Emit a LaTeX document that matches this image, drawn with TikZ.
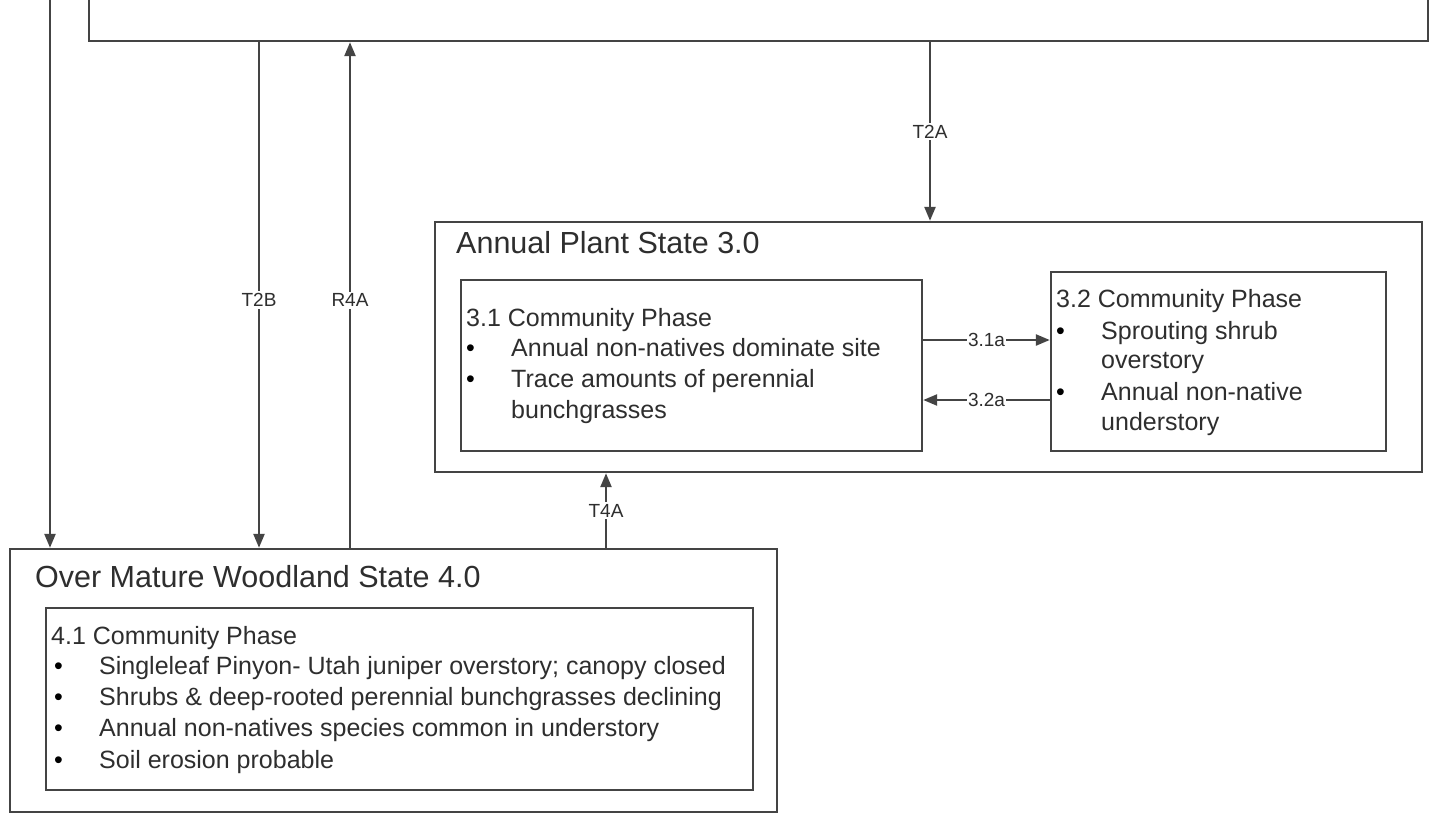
\documentclass[tikz,border=0pt]{standalone}
\usepackage{fontspec}
\setmainfont{Liberation Sans}
\usetikzlibrary{arrows.meta}
\definecolor{ln}{HTML}{444444}
\definecolor{tx}{HTML}{2E2E2E}
\begin{document}
\begin{tikzpicture}[x=1pt,y=-1pt,
  box/.style={draw=ln,line width=2.4pt,rectangle,inner sep=0pt,fill=white},
  arr/.style={draw=ln,line width=2.4pt,-{Triangle[length=14pt,width=11pt]}},
  title/.style={anchor=base west,inner sep=0pt,text=tx,font=\fontsize{30.5}{36}\selectfont},
  body/.style={anchor=base west,inner sep=0pt,text=tx,font=\fontsize{25}{30}\selectfont},
  bul/.style={anchor=base west,inner sep=0pt,text=black,font=\fontsize{25}{30}\selectfont},
  lab/.style={fill=white,inner sep=2pt,text=tx,font=\fontsize{19}{22}\selectfont}]
\useasboundingbox (0,0) rectangle (1444,814);
\clip (0,0) rectangle (1444,814);
\fill[white] (0,0) rectangle (1444,814);
% boxes
\node[box,minimum width=1339pt,minimum height=91pt] (top) at (758.5,-4.5) {};
\node[box,minimum width=987pt,minimum height=250pt] (s3) at (928.5,347) {};
\node[box,minimum width=461pt,minimum height=171pt] (p31) at (691.5,365.5) {};
\node[box,minimum width=335pt,minimum height=179pt] (p32) at (1218.5,361.5) {};
\node[box,minimum width=767pt,minimum height=263pt] (s4) at (393.5,680.5) {};
\node[box,minimum width=707pt,minimum height=182pt] (p41) at (399.5,699) {};
% texts
\node[title] at (456,253) {Annual Plant State 3.0};
\node[title] at (35,587) {Over Mature Woodland State 4.0};
\node[body] at (466,326) {3.1 Community Phase};
\node[bul] at (466,356) {\textbullet};
\node[body] at (511,356) {Annual non-natives dominate site};
\node[bul] at (466,387) {\textbullet};
\node[body] at (511,387) {Trace amounts of perennial};
\node[body] at (511,418) {bunchgrasses};
\node[body] at (1056,307) {3.2 Community Phase};
\node[bul] at (1056,339) {\textbullet};
\node[body] at (1101,339) {Sprouting shrub};
\node[body] at (1101,368) {overstory};
\node[bul] at (1056,400) {\textbullet};
\node[body] at (1101,400) {Annual non-native};
\node[body] at (1101,430) {understory};
\node[body] at (51,644) {4.1 Community Phase};
\node[bul] at (54,674) {\textbullet};
\node[body] at (99,674) {Singleleaf Pinyon- Utah juniper overstory; canopy closed};
\node[bul] at (54,705) {\textbullet};
\node[body] at (99,705) {Shrubs \& deep-rooted perennial bunchgrasses declining};
\node[bul] at (54,736) {\textbullet};
\node[body] at (99,736) {Annual non-natives species common in understory};
\node[bul] at (54,768) {\textbullet};
\node[body] at (99,768) {Soil erosion probable};
% connectors
\coordinate (free) at (50,0);
\coordinate (xT2B) at (259,0);
\coordinate (xR4A) at (350,0);
\coordinate (xT2A) at (930,0);
\coordinate (xT4A) at (606,0);
\coordinate (y31a) at (0,340);
\coordinate (y32a) at (0,400);
\draw[arr] (free) -- (free |- s4.north);
\draw[arr] (top.south -| xT2B) -- node[lab,pos=0.51]{T2B} (s4.north -| xT2B);
\draw[arr] (s4.north -| xR4A) -- node[lab,pos=0.49]{R4A} (top.south -| xR4A);
\draw[arr] (top.south -| xT2A) -- node[lab,pos=0.5]{T2A} (s3.north -| xT2A);
\draw[arr] (s4.north -| xT4A) -- node[lab,pos=0.5]{T4A} (s3.south -| xT4A);
\draw[arr] (p31.east |- y31a) -- node[lab,pos=0.5,inner sep=1pt]{3.1a} (p32.west |- y31a);
\draw[arr] (p32.west |- y32a) -- node[lab,pos=0.5,inner sep=1pt]{3.2a} (p31.east |- y32a);
\end{tikzpicture}
\end{document}
